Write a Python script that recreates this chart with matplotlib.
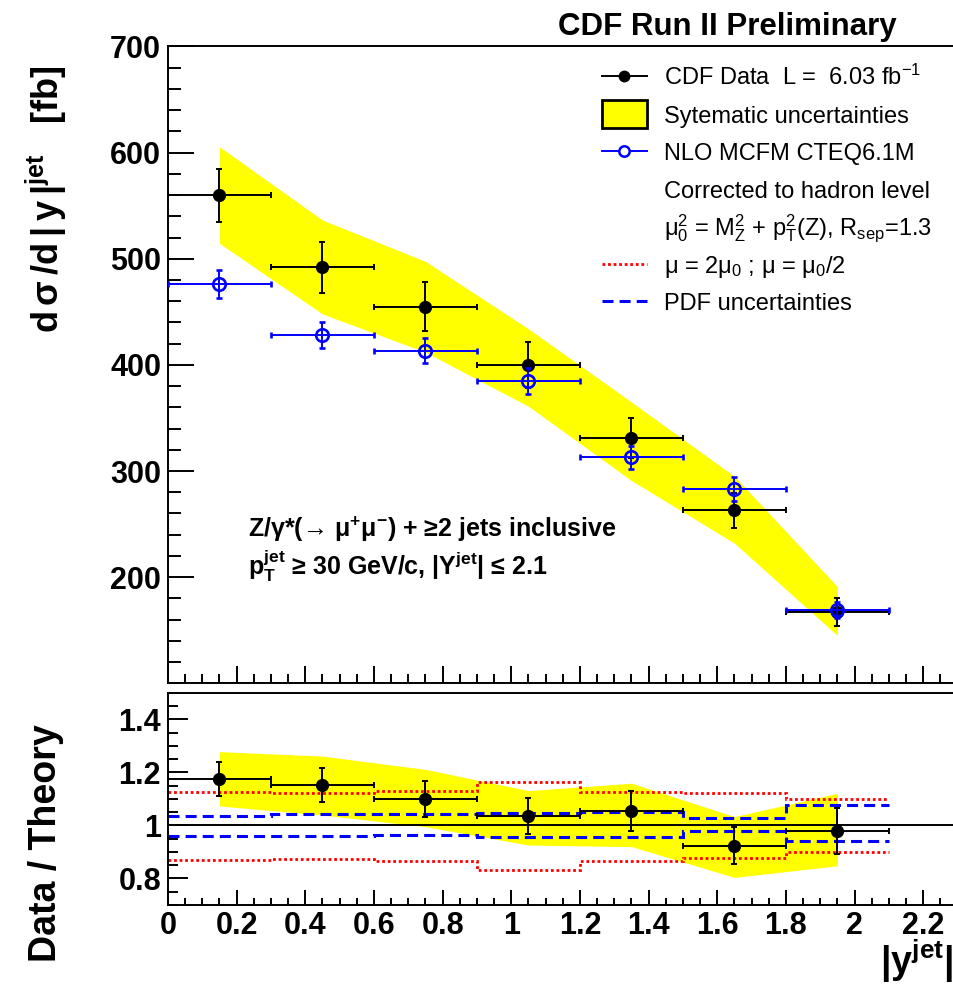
import numpy as np
import matplotlib
matplotlib.use("Agg")
import matplotlib.pyplot as plt
from matplotlib.lines import Line2D
from matplotlib.patches import Rectangle
from matplotlib.ticker import MultipleLocator, FuncFormatter

plt.rcParams["font.family"] = ["Liberation Sans", "DejaVu Sans"]
plt.rcParams["mathtext.default"] = "regular"

# |y_jet| binning
bin_edges = [0.0, 0.3, 0.6, 0.9, 1.2, 1.5, 1.8, 2.1]
bin_centers = [0.15, 0.45, 0.75, 1.05, 1.35, 1.65, 1.95]
bin_halfwidth = [0.15] * 7

# dsigma/d|y| [fb]
data_xs = [560, 492, 455, 400, 331, 263, 167]
data_err = [25, 24, 23, 22, 18.5, 16.5, 13]
nlo_xs = [476, 428, 413.5, 385, 313, 283, 169]
nlo_err = [13, 12, 12, 12, 11, 11, 7.5]
syst_hi = [605.5, 536.5, 497.5, 434, 365, 295, 191]
syst_lo = [514.5, 448, 412, 361, 291, 232, 145]

# Data / Theory
ratio = [1.175, 1.152, 1.100, 1.035, 1.055, 0.923, 0.979]
ratio_err = [0.064, 0.065, 0.067, 0.067, 0.075, 0.070, 0.088]
ratio_syst_hi = [1.278, 1.261, 1.211, 1.131, 1.159, 1.033, 1.121]
ratio_syst_lo = [1.073, 1.039, 0.995, 0.926, 0.920, 0.804, 0.848]
scale_hi = [1.127, 1.121, 1.130, 1.165, 1.127, 1.121, 1.098]
scale_lo = [0.870, 0.872, 0.866, 0.832, 0.866, 0.876, 0.899]
pdf_hi = [1.037, 1.042, 1.042, 1.045, 1.049, 1.029, 1.076]
pdf_lo = [0.961, 0.960, 0.962, 0.958, 0.958, 0.979, 0.941]

W, H = 954, 988


def fx(px):
    return px / W


def fy(py):
    return 1 - py / H


def fbox(x0, y0, x1, y1):
    return [x0 / W, 1 - y1 / H, (x1 - x0) / W, (y1 - y0) / H]


fig = plt.figure(figsize=(W / 100, H / 100), dpi=100)
ax = fig.add_axes(fbox(168, 46.5, 957.6, 683.3))
rax = fig.add_axes(fbox(168, 692.7, 957.6, 905))

BLUE = "#0000ff"
RED = "#ff0000"
YELLOW = "#ffff00"
lw = 1.4

# ---- main panel
ax.fill_between(bin_centers, syst_lo, syst_hi, color=YELLOW, lw=0, zorder=1)
ax.errorbar(bin_centers, data_xs, xerr=bin_halfwidth, yerr=data_err, fmt="o",
            color="black", ms=8.5, elinewidth=lw, capsize=2, capthick=lw, zorder=3)
ax.errorbar(bin_centers, nlo_xs, xerr=bin_halfwidth, yerr=nlo_err, fmt="o",
            color=BLUE, mfc="none", mec=BLUE, mew=1.9, ms=9, elinewidth=lw,
            capsize=2, capthick=lw, zorder=4)

ax.set_xlim(0, 2.3)
ax.set_ylim(100, 700)
ax.set_yticks([200, 300, 400, 500, 600, 700])
ax.yaxis.set_minor_locator(MultipleLocator(20))
ax.xaxis.set_major_locator(MultipleLocator(0.2))
ax.xaxis.set_minor_locator(MultipleLocator(0.05))
ax.tick_params(axis="y", which="major", direction="in", length=19, width=lw,
               labelsize=22, pad=5)
ax.tick_params(axis="y", which="minor", direction="in", length=9.5, width=lw)
ax.tick_params(axis="x", which="major", direction="in", length=12, width=lw,
               labelbottom=False)
ax.tick_params(axis="x", which="minor", direction="in", length=6.5, width=lw)
for lab in ax.get_yticklabels():
    lab.set_fontweight("bold")
for s in ax.spines.values():
    s.set_linewidth(lw)

# ---- ratio panel
rax.fill_between(bin_centers, ratio_syst_lo, ratio_syst_hi, color=YELLOW, lw=0, zorder=1)
rax.stairs(scale_hi, bin_edges, baseline=None, color=RED, lw=2, ls=(0, (1, 1)), zorder=2)
rax.stairs(scale_lo, bin_edges, baseline=None, color=RED, lw=2, ls=(0, (1, 1)), zorder=2)
rax.stairs(pdf_hi, bin_edges, baseline=None, color=BLUE, lw=2.2, ls=(0, (3.6, 2)), zorder=2)
rax.stairs(pdf_lo, bin_edges, baseline=None, color=BLUE, lw=2.2, ls=(0, (3.6, 2)), zorder=2)
rax.axhline(1.0, color="black", lw=lw, zorder=2.5)
rax.errorbar(bin_centers, ratio, xerr=bin_halfwidth, yerr=ratio_err, fmt="o",
             color="black", ms=8.5, elinewidth=lw, capsize=2, capthick=lw, zorder=3)

rax.set_xlim(0, 2.3)
rax.set_ylim(0.7, 1.5)
rax.set_yticks([0.8, 1.0, 1.2, 1.4])
rax.yaxis.set_minor_locator(MultipleLocator(0.05))
rax.xaxis.set_major_locator(MultipleLocator(0.2))
rax.xaxis.set_minor_locator(MultipleLocator(0.05))
fmt = FuncFormatter(lambda v, p: "%g" % round(v, 3))
rax.xaxis.set_major_formatter(fmt)
rax.yaxis.set_major_formatter(fmt)
rax.tick_params(axis="y", which="major", direction="in", length=14.5, width=lw,
                labelsize=22, pad=5)
rax.tick_params(axis="y", which="minor", direction="in", length=7.3, width=lw)
rax.tick_params(axis="x", which="major", direction="in", length=11, width=lw,
                labelsize=22, pad=4)
rax.tick_params(axis="x", which="minor", direction="in", length=5.4, width=lw)
for lab in rax.get_yticklabels() + rax.get_xticklabels():
    lab.set_fontweight("bold")
for s in rax.spines.values():
    s.set_linewidth(lw)

# ---- titles
fig.text(fx(897), fy(35), "CDF Run II Preliminary", ha="right", va="baseline",
         fontsize=22.5, fontweight="bold")
fig.text(fx(46), fy(65), r"d$\,$\u03c3$\,$/d$\,$|$\,$y$\,$|$^{jet}$   [fb]".replace(r"\u03c3", "\u03c3"),
         rotation=90, ha="center", va="top", fontsize=26, fontweight="bold")
fig.text(fx(46), fy(962), "Data / Theory", rotation=90, ha="center",
         va="bottom", fontsize=27, fontweight="bold")
fig.text(fx(953), fy(985), "|y$^{jet}$|", ha="right", va="bottom",
         fontsize=27, fontweight="bold")

fig.text(fx(248), fy(537), "Z/\u03b3*(\u2192 \u03bc$^{+}$\u03bc$^{-}$) + \u22652 jets inclusive",
         ha="left", va="baseline", fontsize=18, fontweight="bold")
fig.text(fx(248), fy(575), "p$_{T}^{jet}$ \u2265 30 GeV/c, |Y$^{jet}$| \u2264 2.1",
         ha="left", va="baseline", fontsize=18, fontweight="bold")

# ---- legend
labels = [
    "CDF Data  L =  6.03 fb$^{-1}$",
    "Sytematic uncertainties",
    "NLO MCFM CTEQ6.1M",
    "Corrected to hadron level",
    "\u03bc$_{0}^{2}$ = M$_{Z}^{2}$ + p$_{T}^{2}$(Z), R$_{sep}$=1.3",
    "\u03bc = 2\u03bc$_{0}$ ; \u03bc = \u03bc$_{0}$/2",
    "PDF uncertainties",
]
base0 = 85.0
step = 37.5
for i, lab in enumerate(labels):
    fig.text(fx(664), fy(base0 + step * i), lab, ha="left", va="baseline", fontsize=17)

yc = [base0 + step * i - 8.5 for i in range(len(labels))]
x0, x1, xm = 602, 647, 624.5
fig.add_artist(Line2D([fx(x0), fx(x1)], [fy(yc[0])] * 2, color="black", lw=lw))
fig.add_artist(Line2D([fx(xm)], [fy(yc[0])], marker="o", color="black", ms=7.5))
fig.add_artist(Rectangle((fx(x0), fy(yc[1] + 13.8)), fx(x1) - fx(x0), 27.6 / H,
                         facecolor=YELLOW, edgecolor="black", lw=2,
                         transform=fig.transFigure))
fig.add_artist(Line2D([fx(x0), fx(x1)], [fy(yc[2])] * 2, color=BLUE, lw=lw))
fig.add_artist(Line2D([fx(xm)], [fy(yc[2])], marker="o", color=BLUE, mfc="white",
                      mec=BLUE, mew=1.8, ms=7.5))
fig.add_artist(Line2D([fx(x0), fx(x1)], [fy(yc[5])] * 2, color=RED, lw=2,
                      ls=(0, (1, 1))))
fig.add_artist(Line2D([fx(x0), fx(x1)], [fy(yc[6])] * 2, color=BLUE, lw=2.2,
                      ls=(0, (3.6, 2))))

fig.savefig("out.png", dpi=100)
